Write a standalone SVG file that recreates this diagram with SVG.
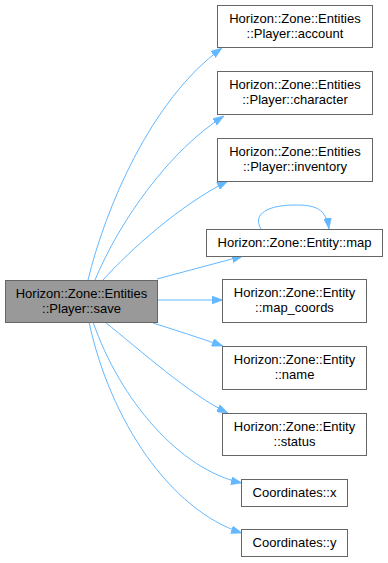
<svg xmlns="http://www.w3.org/2000/svg" width="388" height="563" viewBox="0 0 388 563">
  <style>
    .box { fill: #ffffff; stroke: #666666; stroke-width: 1; }
    .cur { fill: #999999; stroke: #666666; stroke-width: 1; }
    text { font-family: "Liberation Sans", Arial, sans-serif; font-size: 13px; fill: #000000; text-anchor: middle; }
    .edge { fill: none; stroke: #63b8ff; stroke-width: 1; marker-end: url(#arrow); }
  </style>
  <defs>
    <marker id="arrow" markerUnits="userSpaceOnUse" viewBox="0 0 11 8" refX="11" refY="4" markerWidth="11" markerHeight="8" orient="auto">
      <path d="M0,0 L11,4 L0,8 Z" fill="#63b8ff" stroke="#63b8ff" stroke-width="0.5"/>
    </marker>
  </defs>

  <!-- call edges -->
  <g id="edges">
    <path class="edge" d="M88,280 C105,210 150,100 222,48"/>
    <path class="edge" d="M95,280 C120,220 170,150 224,116"/>
    <path class="edge" d="M103,280 C130,250 180,205 228,181"/>
    <path class="edge" d="M157,279 L243,256"/>
    <path class="edge" d="M157,300 L223,300"/>
    <path class="edge" d="M153,323 C175,330 200,338 223,346"/>
    <path class="edge" d="M105,322 C140,350 190,395 228,413"/>
    <path class="edge" d="M93,322 C120,400 180,470 242,483"/>
    <path class="edge" d="M89,322 C110,420 170,510 242,533"/>
    <path class="edge" d="M261,229 C252,214 268,205 295,205 C315,205 326,208 329,229"/>
  </g>

  <g id="node-save">
    <rect class="cur" x="5.5" y="280.5" width="152" height="42"/>
    <text x="81.5" y="298">Horizon::Zone::Entities</text>
    <text x="81.5" y="313">::Player::save</text>
  </g>

  <g id="node-account">
    <rect class="box" x="217.5" y="5.5" width="155" height="42"/>
    <text x="295" y="23">Horizon::Zone::Entities</text>
    <text x="295" y="38">::Player::account</text>
  </g>

  <g id="node-character">
    <rect class="box" x="217.5" y="71.5" width="155" height="43"/>
    <text x="295" y="89">Horizon::Zone::Entities</text>
    <text x="295" y="104">::Player::character</text>
  </g>

  <g id="node-inventory">
    <rect class="box" x="217.5" y="138.5" width="155" height="43"/>
    <text x="295" y="156">Horizon::Zone::Entities</text>
    <text x="295" y="171">::Player::inventory</text>
  </g>

  <g id="node-map">
    <rect class="box" x="206.5" y="229.5" width="176" height="27"/>
    <text x="294.5" y="247">Horizon::Zone::Entity::map</text>
  </g>

  <g id="node-map-coords">
    <rect class="box" x="222.5" y="279.5" width="144" height="43"/>
    <text x="294.5" y="297">Horizon::Zone::Entity</text>
    <text x="294.5" y="312">::map_coords</text>
  </g>

  <g id="node-name">
    <rect class="box" x="222.5" y="346.5" width="144" height="43"/>
    <text x="294.5" y="364">Horizon::Zone::Entity</text>
    <text x="294.5" y="379">::name</text>
  </g>

  <g id="node-status">
    <rect class="box" x="222.5" y="413.5" width="144" height="42"/>
    <text x="294.5" y="431">Horizon::Zone::Entity</text>
    <text x="294.5" y="446">::status</text>
  </g>

  <g id="node-coord-x">
    <rect class="box" x="241.5" y="479.5" width="106" height="27"/>
    <text x="294.5" y="497">Coordinates::x</text>
  </g>

  <g id="node-coord-y">
    <rect class="box" x="241.5" y="529.5" width="106" height="27"/>
    <text x="294.5" y="547">Coordinates::y</text>
  </g>
</svg>
